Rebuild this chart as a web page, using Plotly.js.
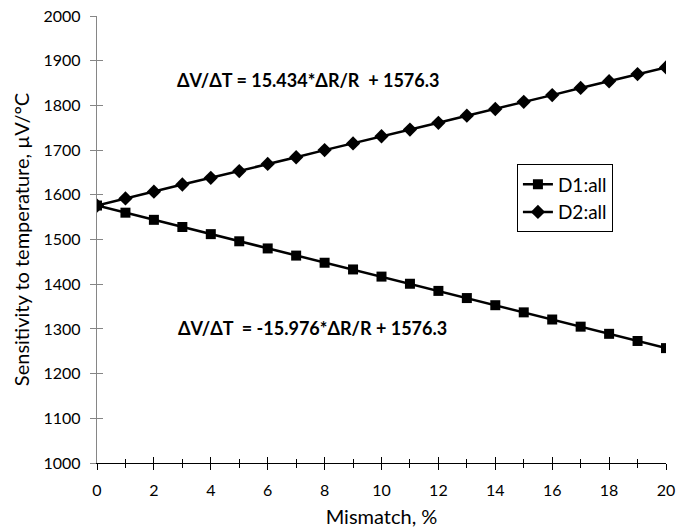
<!DOCTYPE html>
<html><head><meta charset="utf-8">
<script src="https://cdn.plot.ly/plotly-3.0.1.min.js"></script>
<style>body{margin:0;background:#fff}#c{width:678px;height:531px}</style>
</head><body><div id="c"></div>
<script>
const mismatch = [0,1,2,3,4,5,6,7,8,9,10,11,12,13,14,15,16,17,18,19,20];
const d1 = [1576,1560,1544,1528,1512,1496,1480,1464,1448,1433,1417,1401,1385,1369,1353,1337,1321,1305,1289,1273,1257];
const d2 = [1576,1592,1607,1623,1638,1653,1669,1684,1700,1715,1731,1746,1761,1777,1792,1808,1823,1839,1854,1870,1885];
const seriesNames = ['D1:all','D2:all'];
const eq1 = 'ΔV/ΔT = 15.434*ΔR/R  + 1576.3';
const eq2 = 'ΔV/ΔT  = -15.976*ΔR/R + 1576.3';
const FONT = 'Lato, "Open Sans", sans-serif';

const traces = [
  {x: mismatch, y: d1, name: seriesNames[0], mode: 'lines+markers',
   line: {color: '#000', width: 2.5}, marker: {symbol: 'square', size: 10, color: '#000'}},
  {x: mismatch, y: d2, name: seriesNames[1], mode: 'lines+markers',
   line: {color: '#000', width: 2.5}, marker: {symbol: 'diamond', size: 11, color: '#000'}},
  {x: [], y: [], xaxis: 'x2', yaxis: 'y2', showlegend: false, hoverinfo: 'skip'}
];

const layout = {
  width: 678, height: 531,
  margin: {l: 97, r: 12, t: 16, b: 68},
  paper_bgcolor: '#fff', plot_bgcolor: '#fff',
  font: {family: FONT, size: 16, color: '#000'},
  showlegend: true,
  legend: {x: 0.738, y: 0.668, xanchor: 'left', yanchor: 'top', bgcolor: '#fff',
    bordercolor: '#000', borderwidth: 1, font: {family: FONT, size: 19}, tracegroupgap: 8,
    itemwidth: 30},
  xaxis: {range: [0, 20], dtick: 2, tick0: 0, showgrid: false, zeroline: false,
    showline: true, linecolor: '#000', linewidth: 1.3,
    ticks: 'outside', ticklen: 6, tickcolor: '#000', tickwidth: 1.3,
    minor: {dtick: 1, ticks: 'outside', ticklen: 4, tickcolor: '#000', tickwidth: 1},
    tickfont: {size: 16}, ticklabelstandoff: 7,
    title: {text: 'Mismatch, %', font: {size: 20}, standoff: 11}},
  yaxis: {range: [1000, 2000], dtick: 100, showgrid: false, zeroline: false,
    showline: true, linecolor: '#868686', linewidth: 1.3,
    ticks: 'outside', ticklen: 6, tickcolor: '#868686', tickwidth: 1.3,
    tickfont: {size: 16}, ticklabelstandoff: 6,
    title: {text: 'Sensitivity to temperature, µV/°C', font: {size: 20}, standoff: 8}},
  xaxis2: {overlaying: 'x', range: [0, 20], dtick: 2, tick0: 0, showgrid: false, zeroline: false,
    showline: false, ticks: 'inside', ticklen: 6, tickcolor: '#000', tickwidth: 1.3,
    minor: {dtick: 1, ticks: 'inside', ticklen: 4, tickcolor: '#000', tickwidth: 1},
    showticklabels: false},
  yaxis2: {overlaying: 'y', range: [1000, 2000], dtick: 100, showgrid: false, zeroline: false,
    showline: false, ticks: 'inside', ticklen: 6, tickcolor: '#868686', tickwidth: 1.3,
    showticklabels: false},
  annotations: [
    {x: 7.42, y: 1857, xref: 'x', yref: 'y', text: '<b>' + eq1 + '</b>', showarrow: false,
     font: {family: FONT, size: 18}},
    {x: 7.59, y: 1302, xref: 'x', yref: 'y', text: '<b>' + eq2 + '</b>', showarrow: false,
     font: {family: FONT, size: 18}}
  ]
};

Plotly.newPlot('c', traces, layout, {displayModeBar: false});
</script></body></html>
